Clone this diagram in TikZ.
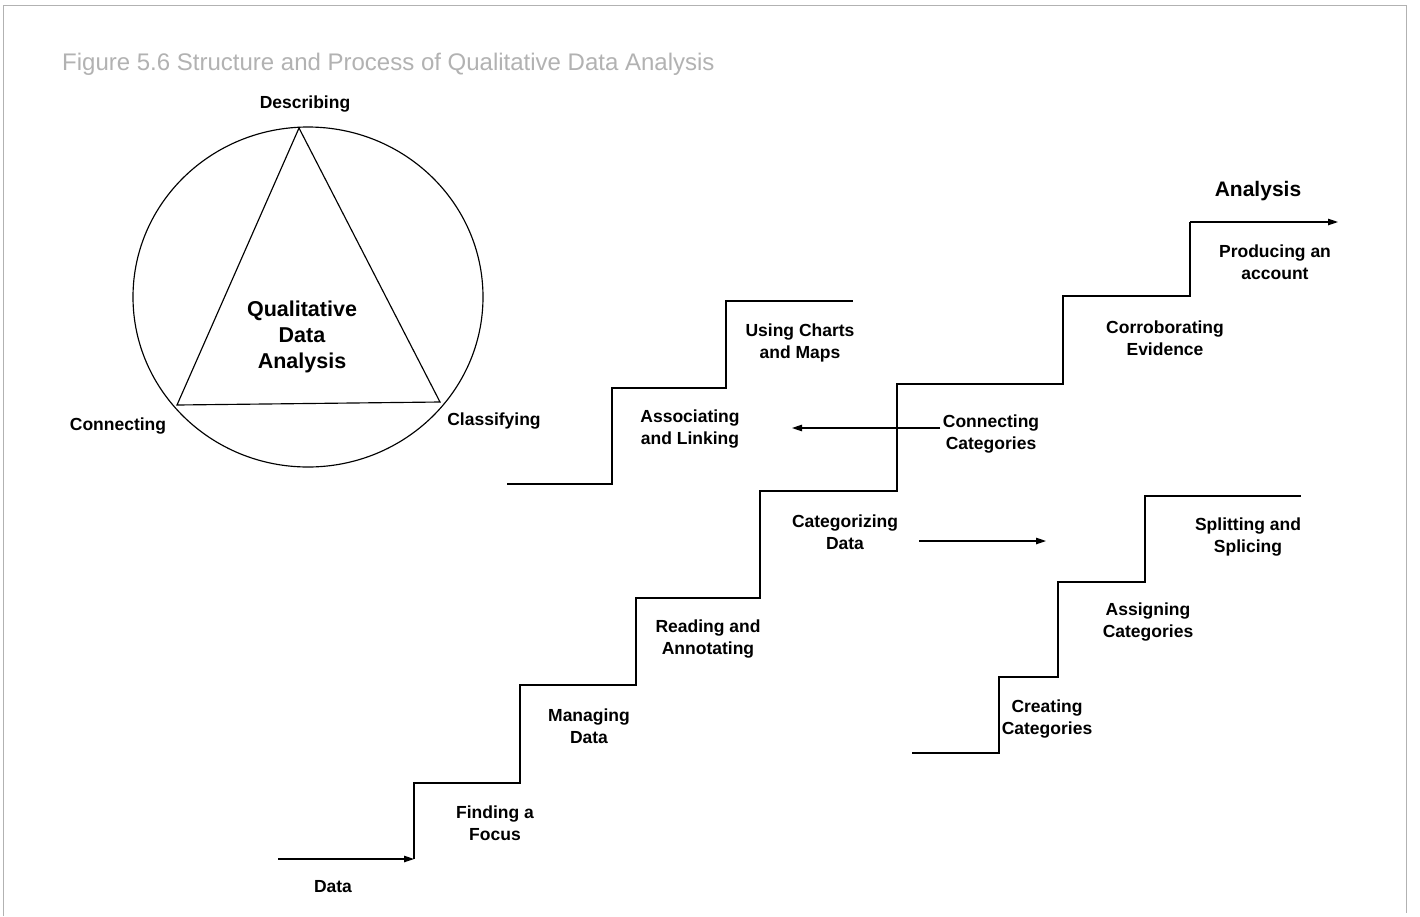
\documentclass[tikz,border=0pt]{standalone}
\usepackage{fontspec}
\setmainfont{Liberation Sans}
\usetikzlibrary{arrows.meta}
\begin{document}
\begin{tikzpicture}[x=1pt,y=-1pt,
  lbl/.style={font=\bfseries\fontsize{17.5}{22.5}\selectfont, align=center, inner sep=0pt},
  big/.style={font=\bfseries\fontsize{21.5}{26}\selectfont, align=center, inner sep=0pt},
  line/.style={line width=1.15pt, line join=miter, line cap=butt},
  flow/.style={line width=1.15pt, -{Triangle[length=10pt,width=6.5pt]}},
  frame/.style={gray!60, line width=0.8pt}]
\useasboundingbox (0,0) rectangle (1420,916);
\fill[white] (0,0) rectangle (1420,916);

% page frame
\draw[frame] (3,916) -- (3,5) -- (1406,5) -- (1406,913);

% title
\node[anchor=base west, inner sep=0pt, text=gray!60,
      font=\fontsize{24}{28}\selectfont] (title) at (62,70)
  {Figure 5.6 Structure and Process of Qualitative Data Analysis};

% ---- circle and triangle ----
\draw[line] (308,297) ellipse [x radius=175, y radius=170];
\coordinate (tA) at (299,128);
\coordinate (tB) at (177,405);
\coordinate (tC) at (440,402);
\draw[line] (tA) -- (tB) -- (tC) -- cycle;

\node[lbl] (describing) at (305,104) {Describing};
\node[lbl] (connecting) at (118,426) {Connecting};
\node[lbl] (classifying) at (494,421) {Classifying};
\node[big] (qda) at (302,337) {Qualitative\\Data\\Analysis};

% ---- main staircase ----
\coordinate (d0) at (278,859);
\coordinate (d1) at (414,859);
\coordinate (s1) at (414,783);
\coordinate (s2) at (520,783);
\coordinate (s3) at (520,685);
\coordinate (s4) at (636,685);
\coordinate (s5) at (636,598);
\coordinate (s6) at (760,598);
\coordinate (s7) at (760,491);
\coordinate (s8) at (897,491);
\coordinate (s9) at (897,384);
\coordinate (s10) at (1063,384);
\coordinate (s11) at (1063,296);
\coordinate (s12) at (1190,296);
\coordinate (s13) at (1190,222);
\coordinate (s14) at (1338,222);

\draw[flow] (d0) -- (d1);
\draw[line] (d1) -- (s1) -- (s2) -- (s3) -- (s4) -- (s5) -- (s6) -- (s7)
  -- (s8) -- (s9) -- (s10) -- (s11) -- (s12) -- (s13);
\draw[flow] (s13) -- (s14);

\node[lbl] (data) at (333,887) {Data};
\node[lbl] (focus) at (495,823) {Finding a\\Focus};
\node[lbl] (managing) at (589,726) {Managing\\Data};
\node[lbl] (reading) at (708,639) {Reading and\\Annotating};
\node[lbl] (categorizing) at (845,532) {Categorizing\\Data};
\node[lbl] (conncat) at (991,434) {Connecting\\Categories};
\node[lbl] (corrob) at (1165,338) {Corroborating\\Evidence};
\node[lbl] (producing) at (1275,262) {Producing an\\account};
\node[font=\bfseries\fontsize{21}{25}\selectfont, inner sep=0pt] (analysis) at (1258,191) {Analysis};

% ---- upper left staircase ----
\coordinate (u0) at (507,484);
\coordinate (u1) at (612,484);
\coordinate (u2) at (612,388);
\coordinate (u3) at (726,388);
\coordinate (u4) at (726,301);
\coordinate (u5) at (853,301);
\draw[line] (u0) -- (u1) -- (u2) -- (u3) -- (u4) -- (u5);
\node[lbl] (assoc) at (690,429) {Associating\\and Linking};
\node[lbl] (charts) at (800,343) {Using Charts\\and Maps};

% ---- lower right staircase ----
\coordinate (r0) at (912,753);
\coordinate (r1) at (999,753);
\coordinate (r2) at (999,677);
\coordinate (r3) at (1058,677);
\coordinate (r4) at (1058,582);
\coordinate (r5) at (1145,582);
\coordinate (r6) at (1145,496);
\coordinate (r7) at (1301,496);
\draw[line] (r0) -- (r1) -- (r2) -- (r3) -- (r4) -- (r5) -- (r6) -- (r7);
\node[lbl] (creating) at (1047,719) {Creating\\Categories};
\node[lbl] (assigning) at (1148,622) {Assigning\\Categories};
\node[lbl] (splitting) at (1248,537) {Splitting and\\Splicing};

% ---- links between the staircases ----
\coordinate (cA) at (940,428);
\coordinate (cB) at (792,428);
\draw[flow] (cA) -- (cB);
\coordinate (kA) at (919,541);
\coordinate (kB) at (1046,541);
\draw[flow] (kA) -- (kB);
\end{tikzpicture}
\end{document}
